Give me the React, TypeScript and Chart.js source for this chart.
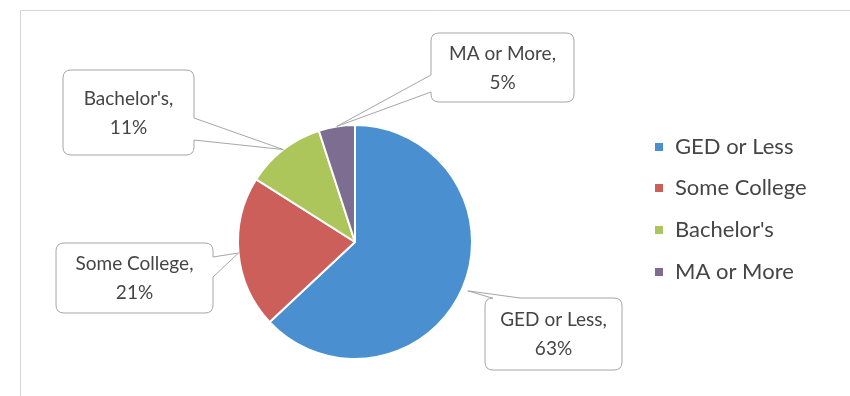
import React, { useEffect, useRef } from "react";
import { Chart, registerables } from "chart.js";

Chart.register(...registerables);

const categories = ["GED or Less", "Some College", "Bachelor's", "MA or More"];
const shares = [63, 21, 11, 5];
const colors = ["#4a8fd0", "#cd5f5b", "#adc65c", "#7c6d91"];

const FONT = "Lato, 'Open Sans', sans-serif";
const TEXT = "#454545";

// callout box layout (per slice, same order as categories)
const calloutLayout = [
  { x: 485, y: 298, w: 137, h: 72, side: "top", a: 492, b: 520, d: 6 },
  { x: 56, y: 243, w: 157, h: 70, side: "right", a: 257, b: 277, d: 0 },
  { x: 63, y: 70, w: 131, h: 85, side: "right", a: 118, b: 140, d: 0 },
  { x: 431, y: 33, w: 143, h: 69, side: "left", a: 75, b: 92, d: 0 },
];

function calloutPath(ctx: CanvasRenderingContext2D, L: any, tx: number, ty: number) {
  const { x, y, w, h } = L;
  const r = 8;
  const R = x + w;
  const B = y + h;
  ctx.beginPath();
  ctx.moveTo(x + r, y);
  if (L.side === "top") {
    ctx.lineTo(L.a, y);
    ctx.lineTo(tx, ty);
    ctx.lineTo(L.b, y);
  }
  ctx.lineTo(R - r, y);
  ctx.quadraticCurveTo(R, y, R, y + r);
  if (L.side === "right") {
    ctx.lineTo(R, L.a);
    ctx.lineTo(tx, ty);
    ctx.lineTo(R, L.b);
  }
  ctx.lineTo(R, B - r);
  ctx.quadraticCurveTo(R, B, R - r, B);
  ctx.lineTo(x + r, B);
  ctx.quadraticCurveTo(x, B, x, B - r);
  if (L.side === "left") {
    ctx.lineTo(x, L.b);
    ctx.lineTo(tx, ty);
    ctx.lineTo(x, L.a);
  }
  ctx.lineTo(x, y + r);
  ctx.quadraticCurveTo(x, y, x + r, y);
  ctx.closePath();
}

const decorPlugin = {
  id: "decor",
  beforeDraw(chart: any) {
    const ctx = chart.ctx as CanvasRenderingContext2D;
    ctx.save();
    ctx.fillStyle = "#ffffff";
    ctx.fillRect(0, 0, chart.width, chart.height);
    ctx.strokeStyle = "#d6d6d6";
    ctx.lineWidth = 1;
    ctx.beginPath();
    ctx.moveTo(20.5, chart.height);
    ctx.lineTo(20.5, 10.5);
    ctx.lineTo(chart.width, 10.5);
    ctx.stroke();
    ctx.restore();
  },
  afterDraw(chart: any) {
    const ctx = chart.ctx as CanvasRenderingContext2D;
    const meta = chart.getDatasetMeta(0);
    const labels = chart.data.labels as string[];
    const values = chart.data.datasets[0].data as number[];
    const bg = chart.data.datasets[0].backgroundColor as string[];
    ctx.save();
    // callouts
    meta.data.forEach((arc: any, i: number) => {
      const p = arc.getProps(["x", "y", "startAngle", "endAngle", "outerRadius"], true);
      const mid = (p.startAngle + p.endAngle) / 2;
      const L = calloutLayout[i];
      const tx = p.x + Math.cos(mid) * (p.outerRadius + L.d);
      const ty = p.y + Math.sin(mid) * (p.outerRadius + L.d);
      calloutPath(ctx, L, tx, ty);
      ctx.fillStyle = "#ffffff";
      ctx.fill();
      ctx.strokeStyle = "#a6a6a6";
      ctx.lineWidth = 1;
      ctx.stroke();
      ctx.fillStyle = TEXT;
      ctx.font = `19px ${FONT}`;
      ctx.textAlign = "center";
      ctx.textBaseline = "middle";
      const cx = L.x + L.w / 2;
      const cy = L.y + L.h / 2;
      ctx.fillText(`${labels[i]},`, cx, cy - 14);
      ctx.fillText(`${values[i]}%`, cx, cy + 15);
    });
    // legend
    const ly = [147, 188, 230, 272];
    labels.forEach((lab, i) => {
      ctx.fillStyle = bg[i];
      ctx.fillRect(655, ly[i] - 4, 8, 8);
      ctx.fillStyle = TEXT;
      ctx.font = `22px ${FONT}`;
      ctx.textAlign = "left";
      ctx.textBaseline = "middle";
      ctx.fillText(lab, 675, ly[i]);
    });
    ctx.restore();
  },
};

export default function App() {
  const ref = useRef<HTMLCanvasElement | null>(null);
  useEffect(() => {
    if (!ref.current) return;
    const chart = new Chart(ref.current, {
      type: "pie",
      data: {
        labels: categories,
        datasets: [
          {
            data: shares,
            backgroundColor: colors,
            borderColor: "#ffffff",
            borderWidth: 2,
          },
        ],
      },
      options: {
        responsive: false,
        animation: false,
        layout: { padding: { left: 237, right: 377, top: 124, bottom: 36 } },
        plugins: {
          legend: { display: false },
          tooltip: { enabled: false },
        },
      },
      plugins: [decorPlugin],
    });
    return () => chart.destroy();
  }, []);
  return (
    <div style={{ position: "fixed", left: 0, top: 0, width: 850, height: 396 }}>
      <canvas ref={ref} width={850} height={396} style={{ width: 850, height: 396 }} />
    </div>
  );
}
